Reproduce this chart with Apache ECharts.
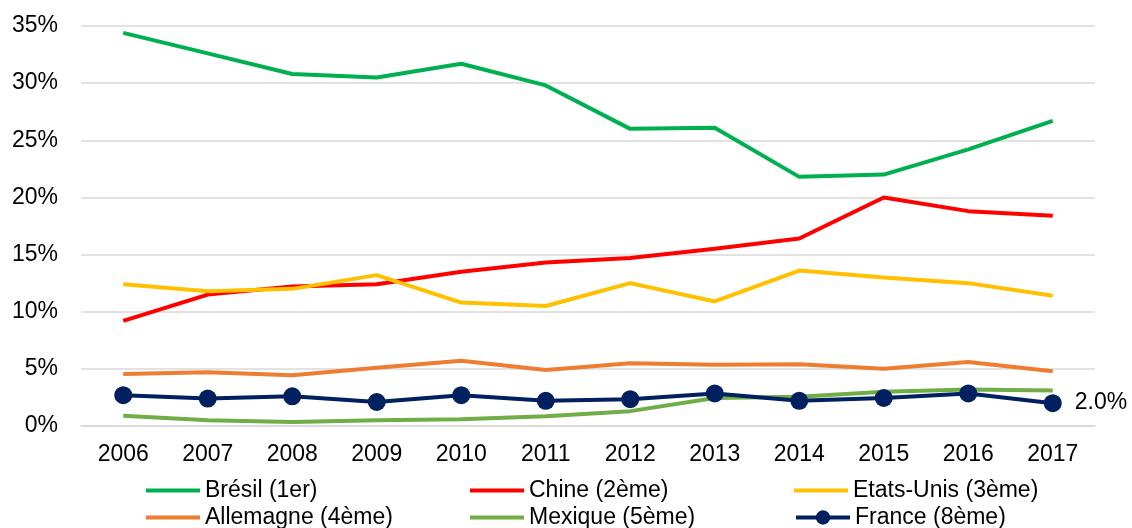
<!DOCTYPE html>
<html lang="fr">
<head>
  <meta charset="UTF-8">
  <title>Parts</title>
  <script src="https://cdn.jsdelivr.net/npm/echarts@6/dist/echarts.min.js"></script>
  <style>
    html, body { margin: 0; padding: 0; background: #fff; }
    #main { width: 1132px; height: 528px; }
  </style>
</head>
<body>
  <div id="main"></div>
  <script type="text/javascript">
    var years = ['2006', '2007', '2008', '2009', '2010', '2011', '2012', '2013', '2014', '2015', '2016', '2017'];
    var bresil = [34.4, 32.6, 30.8, 30.5, 31.7, 29.8, 26.0, 26.1, 21.8, 22.0, 24.2, 26.7];
    var chine = [9.2, 11.5, 12.2, 12.4, 13.5, 14.3, 14.7, 15.5, 16.4, 20.0, 18.8, 18.4];
    var etatsUnis = [12.4, 11.8, 12.0, 13.2, 10.8, 10.5, 12.5, 10.9, 13.6, 13.0, 12.5, 11.4];
    var allemagne = [4.55, 4.7, 4.45, 5.1, 5.7, 4.9, 5.5, 5.35, 5.4, 5.0, 5.6, 4.8];
    var mexique = [0.9, 0.5, 0.35, 0.5, 0.6, 0.85, 1.3, 2.45, 2.55, 3.0, 3.2, 3.1];
    var france = [2.7, 2.4, 2.6, 2.1, 2.7, 2.2, 2.35, 2.85, 2.2, 2.45, 2.85, 2.0];

    var font = 'Liberation Sans, Arial, sans-serif';
    var fs = 23;

    function plain(name, data, color) {
      return {
        name: name,
        type: 'line',
        data: data,
        symbol: 'none',
        lineStyle: { color: color, width: 4 },
        itemStyle: { color: color }
      };
    }

    // one legend per entry so the three columns line up like the original
    function leg(name, left, top, marker) {
      var l = {
        left: left,
        top: top,
        itemWidth: 54,
        itemHeight: marker ? 18 : 4,
        itemGap: 5,
        textStyle: { fontSize: fs, fontFamily: font, color: '#000' },
        data: [name]
      };
      if (!marker) l.icon = 'rect';
      else l.lineStyle = { width: 4 };
      return l;
    }

    var myChart = echarts.init(document.getElementById('main'));
    var option = {
      animation: false,
      grid: { left: 81, right: 37, top: 26, bottom: 102 },
      legend: [
        leg('Brésil (1er)', 141, 474),
        leg('Chine (2ème)', 465, 474),
        leg('Etats-Unis (3ème)', 789, 474),
        leg('Allemagne (4ème)', 141, 501),
        leg('Mexique (5ème)', 465, 501),
        leg('France (8ème)', 789, 501, true)
      ],
      xAxis: {
        type: 'category',
        data: years,
        boundaryGap: true,
        axisLine: { lineStyle: { color: '#d9d9d9', width: 1.5 } },
        axisTick: { show: false },
        axisLabel: { fontSize: fs, fontFamily: font, color: '#000', margin: 17 }
      },
      yAxis: {
        type: 'value',
        min: 0,
        max: 35,
        interval: 5,
        axisLine: { show: false },
        axisTick: { show: false },
        splitLine: { lineStyle: { color: '#d9d9d9', width: 1.5 } },
        axisLabel: { fontSize: fs, fontFamily: font, color: '#000', margin: 23, formatter: '{value}%' }
      },
      series: [
        plain('Brésil (1er)', bresil, '#00b050'),
        plain('Chine (2ème)', chine, '#ff0000'),
        plain('Etats-Unis (3ème)', etatsUnis, '#ffc000'),
        plain('Allemagne (4ème)', allemagne, '#ed7d31'),
        plain('Mexique (5ème)', mexique, '#70ad47'),
        {
          name: 'France (8ème)',
          type: 'line',
          data: france,
          symbol: 'circle',
          symbolSize: 18,
          lineStyle: { color: '#002060', width: 4 },
          itemStyle: { color: '#002060' },
          label: {
            show: true,
            position: 'right',
            distance: 13,
            fontSize: fs,
            fontFamily: font,
            color: '#000',
            formatter: function (p) {
              return p.dataIndex === years.length - 1 ? p.value.toFixed(1) + '%' : '';
            }
          }
        }
      ]
    };
    myChart.setOption(option);
  </script>
</body>
</html>
